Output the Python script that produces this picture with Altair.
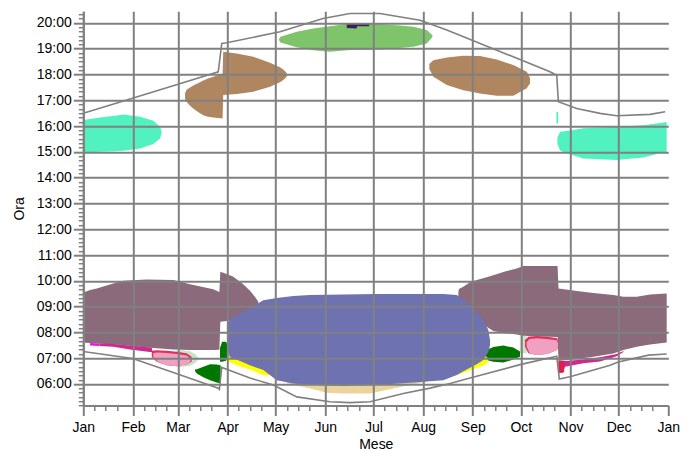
import altair as alt
import pandas as pd

FONT = "Liberation Sans"
GRID = "#808080"

MONTH_DAYS = [0, 31, 59, 90, 120, 151, 181, 212, 243, 273, 304, 334, 365]
MONTH_LABELS = ["Jan", "Feb", "Mar", "Apr", "May", "Jun", "Jul", "Aug", "Sep", "Oct", "Nov", "Dec", "Jan"]
HOUR_TICKS = list(range(6, 21))
X_DOMAIN = [0, 365]
Y_DOMAIN = [5 + 10 / 60, 20.45]

# sunset / sunrise curves (day of year, hour)
sunset_day = [1, 30.2, 59.1, 84.2, 86.4, 89.5, 122.7, 149.6, 166.4, 185.1, 210.1, 226.8, 258.0, 291.2, 295.4, 296.4, 307.9, 322.4, 332.8, 353.6, 363.0]
sunset_h = [16.51, 17.07, 17.62, 18.10, 19.20, 19.225, 19.65, 20.17, 20.36, 20.36, 20.10, 19.72, 18.94, 18.10, 17.97, 16.94, 16.68, 16.49, 16.40, 16.45, 16.55]
sunrise_day = [1, 30.8, 59.3, 84.2, 84.9, 86.4, 91.5, 104.0, 118.6, 133.2, 153.9, 166.4, 178.9, 199.7, 216.3, 228.8, 241.3, 272.5, 295.4, 297.0, 303.7, 328.7, 333.8, 352.6, 364.0]
sunrise_h = [7.25, 6.99, 6.38, 5.84, 5.79, 6.64, 6.52, 6.23, 5.96, 5.50, 5.31, 5.28, 5.31, 5.635, 5.84, 6.02, 6.23, 6.75, 7.08, 6.19, 6.28, 6.73, 6.85, 7.12, 7.16]

# shaded regions: day, lower hour, upper hour
aqua_l_day = [0, 10.4, 19.8, 25.0, 35.4, 43.7, 47.9, 48.9]
aqua_l_lo = [14.94, 15.00, 15.02, 15.04, 15.13, 15.30, 15.52, 15.74]
aqua_l_hi = [16.23, 16.33, 16.40, 16.45, 16.36, 16.20, 15.97, 15.78]

aqua_r_day = [295.8, 297.5, 301.6, 312.0, 332.8, 349.4, 359.8, 364.0]
aqua_r_lo = [15.30, 15.05, 14.94, 14.74, 14.68, 14.78, 14.94, 14.96]
aqua_r_hi = [15.55, 15.78, 15.81, 15.91, 15.97, 16.03, 16.12, 16.16]

aqua_s_day = [295.2, 296.3]
aqua_s_lo = [16.10, 16.10]
aqua_s_hi = [16.55, 16.55]

brown_l_day = [63.5, 64.5, 66.6, 68.6, 71.6, 74.9, 77.8, 81.1, 86.9, 87.3, 95.7, 106.1, 116.5, 122.7, 124.8, 126.9]
brown_l_lo = [17.04, 16.93, 16.79, 16.68, 16.54, 16.42, 16.36, 16.33, 16.29, 17.20, 17.24, 17.33, 17.52, 17.70, 17.78, 17.91]
brown_l_hi = [17.28, 17.41, 17.49, 17.57, 17.66, 17.76, 17.84, 17.91, 18.03, 18.88, 18.81, 18.68, 18.45, 18.28, 18.19, 18.05]

brown_r_day = [215.9, 218.4, 226.8, 237.1, 247.5, 258.0, 268.3, 276.7, 278.7]
brown_r_lo = [18.21, 17.91, 17.59, 17.39, 17.26, 17.17, 17.17, 17.46, 17.66]
brown_r_hi = [18.40, 18.55, 18.66, 18.72, 18.71, 18.58, 18.36, 18.10, 17.86]

green_day = [122.1, 123.0, 133.2, 143.5, 153.9, 164.4, 174.7, 185.1, 195.6, 205.9, 214.3, 217.8]
green_lo = [19.33, 19.24, 19.05, 18.94, 18.88, 18.94, 18.96, 18.97, 19.01, 19.07, 19.20, 19.45]
green_hi = [19.36, 19.46, 19.65, 19.78, 19.87, 19.95, 19.96, 19.95, 19.91, 19.85, 19.72, 19.52]

navy_day = [164.4, 170.6, 170.8, 178.3]
navy_lo = [19.80, 19.78, 19.87, 19.87]
navy_hi = [19.98, 19.98, 19.98, 19.98]

mauve_l_day = [1.0, 4.2, 8.4, 18.7, 25.0, 39.6, 56.2, 66.6, 81.1, 84.9, 85.5, 89.5, 93.6, 99.8, 104.0, 107.1, 109.2]
mauve_l_lo = [7.60, 7.585, 7.57, 7.535, 7.51, 7.41, 7.34, 7.314, 7.314, 7.33, 8.41, 8.44, 8.50, 8.67, 8.84, 8.99, 9.12]
mauve_l_hi = [9.57, 9.64, 9.70, 9.90, 10.00, 10.05, 10.03, 9.87, 9.67, 9.57, 10.35, 10.26, 10.155, 9.87, 9.61, 9.38, 9.19]

mauve_r_day = [234.0, 234.4, 237.1, 241.3, 245.5, 251.7, 255.8, 263.1, 270.4, 274.6, 295.9, 296.5, 307.9, 318.2, 330.7, 337.0, 345.3, 353.6, 364.0]
mauve_r_lo = [9.32, 9.25, 9.06, 8.80, 8.54, 8.22, 8.05, 7.97, 7.92, 7.86, 7.82, 6.89, 6.965, 7.055, 7.186, 7.314, 7.44, 7.535, 7.61]
mauve_r_hi = [9.57, 9.68, 9.77, 9.94, 10.03, 10.14, 10.22, 10.356, 10.48, 10.57, 10.57, 9.70, 9.60, 9.53, 9.446, 9.38, 9.38, 9.47, 9.51]

mag_la_day = [4.2, 10.0]
mag_la_lo = [7.49, 7.47]
mag_la_hi = [7.585, 7.57]
mag_lb_day = [10.0, 18.7, 29.1, 41.6, 42.9]
mag_lb_lo = [7.47, 7.44, 7.34, 7.24, 7.24]
mag_lb_hi = [7.57, 7.55, 7.49, 7.41, 7.39]

mag_r_day = [296.5, 299.3, 300.6, 312.0, 322.4, 332.8, 337.0]
mag_r_lo = [6.42, 6.46, 6.67, 6.80, 6.87, 7.08, 7.24]
mag_r_hi = [6.89, 6.89, 6.89, 6.945, 7.04, 7.16, 7.275]
spike_day = [296.5, 300.0]
spike_lo = [6.42, 6.46]
spike_hi = [6.89, 6.89]

pale_l_day = [58.0, 62.0, 66.6, 70.0, 71.8]
pale_l_lo = [6.68, 6.67, 6.70, 6.82, 6.95]
pale_l_hi = [7.30, 7.31, 7.27, 7.15, 7.00]
pale_r_day = [272.3, 276.7]
pale_r_lo = [7.19, 7.19]
pale_r_hi = [7.87, 7.87]

red_l_day = [42.7, 45.8, 52.0, 58.3, 64.5, 67.6]
red_l_lo = [7.06, 6.86, 6.73, 6.69, 6.77, 6.86]
red_l_hi = [7.29, 7.31, 7.29, 7.25, 7.19, 7.06]
pink_l_day = [43.6, 46.5, 52.0, 58.3, 64.5, 66.9]
pink_l_lo = [7.06, 6.86, 6.73, 6.69, 6.77, 6.86]
pink_l_hi = [7.20, 7.22, 7.20, 7.16, 7.10, 6.98]

red_r_day = [275.6, 277.7, 282.9, 289.2, 295.4, 296.4]
red_r_lo = [7.44, 7.19, 7.12, 7.16, 7.31, 7.44]
red_r_hi = [7.70, 7.83, 7.86, 7.83, 7.78, 7.66]
pink_r_day = [276.6, 278.4, 282.9, 289.2, 295.4, 296.2]
pink_r_lo = [7.44, 7.19, 7.12, 7.16, 7.31, 7.44]
pink_r_hi = [7.62, 7.74, 7.77, 7.74, 7.70, 7.58]

dg_l_day = [69.7, 70.8, 74.9, 79.1, 83.2, 85.7]
dg_l_lo = [6.50, 6.41, 6.26, 6.15, 6.06, 6.02]
dg_l_hi = [6.56, 6.57, 6.67, 6.77, 6.76, 6.73]
dg_s_day = [85.3, 86.6, 89.0, 90.5]
dg_s_lo = [6.86, 6.86, 6.90, 7.05]
dg_s_hi = [7.40, 7.64, 7.64, 7.48]
dg_r_day = [249.2, 251.7, 255.8, 262.1, 268.3, 272.5]
dg_r_lo = [7.08, 6.926, 6.86, 6.83, 6.945, 7.06]
dg_r_hi = [7.16, 7.314, 7.43, 7.49, 7.41, 7.26]

yel_l_day = [90.5, 97.8, 104.0, 112.3, 115.4, 116.5]
yel_l_lo = [6.86, 6.69, 6.56, 6.345, 6.325, 6.345]
yel_l_hi = [7.314, 7.12, 7.00, 6.85, 6.54, 6.42]
yel_r_day = [226.9, 233.0, 239.2, 245.5, 250.7, 252.5]
yel_r_lo = [6.28, 6.34, 6.48, 6.62, 6.75, 6.85]
yel_r_hi = [6.60, 6.60, 6.70, 6.90, 7.10, 7.00]

tan_day = [126.9, 128.2, 141.5, 151.9, 162.2, 178.9, 193.4, 203.9, 214.3, 215.7]
tan_lo = [6.03, 6.02, 5.83, 5.66, 5.635, 5.635, 5.83, 5.958, 6.09, 6.15]
tan_hi = [6.10, 6.20, 6.20, 6.20, 6.20, 6.20, 6.20, 6.20, 6.20, 6.20]

blue_day = [90.0, 91.5, 97.8, 104.0, 112.3, 120.7, 131.0, 141.5, 162.2, 183.1, 203.9, 224.6, 233.0, 239.2, 245.5, 249.6, 252.7, 253.8]
blue_lo = [7.314, 7.04, 6.89, 6.73, 6.54, 6.15, 6.02, 5.958, 5.92, 5.958, 6.05, 6.15, 6.35, 6.56, 6.77, 6.93, 7.24, 7.51]
blue_hi = [8.36, 8.515, 8.75, 8.94, 9.25, 9.33, 9.41, 9.446, 9.465, 9.485, 9.485, 9.485, 9.446, 9.175, 8.79, 8.48, 8.09, 7.70]

XS = alt.Scale(domain=X_DOMAIN, nice=False, zero=False)
YS = alt.Scale(domain=Y_DOMAIN, nice=False, zero=False)


def band(days, lo, hi, color):
    df = pd.DataFrame({"day": days, "lo": lo, "hi": hi})
    return alt.Chart(df).mark_area(color=color, opacity=1, interpolate="linear").encode(
        x=alt.X("day:Q", scale=XS, axis=None),
        y=alt.Y("lo:Q", scale=YS, axis=None),
        y2="hi:Q",
    )


month_expr = "[" + ",".join("'%s'" % m for m in MONTH_LABELS) + "][indexof([" + ",".join(str(d) for d in MONTH_DAYS) + "], datum.value)]"
hour_expr = "(datum.value < 10 ? '0' : '') + datum.value + ':00'"

common = dict(
    labelFont=FONT, labelFontSize=14, labelColor="#000000",
    titleFont=FONT, titleFontSize=14, titleFontWeight="normal", titleColor="#000000",
    labelFlush=False, labelOverlap=False,
    domainColor=GRID, domainWidth=2, tickColor=GRID, tickWidth=2, tickSize=10,
    gridColor=GRID, gridWidth=2, zindex=1,
)

x_axis = alt.Axis(values=MONTH_DAYS, labelExpr=month_expr, title="Mese", grid=True,
                  gridOpacity={"condition": {"test": "datum.value >= 365", "value": 0}, "value": 1},
                  labelPadding=5, titlePadding=3, orient="bottom", **common)
y_axis = alt.Axis(values=HOUR_TICKS, labelExpr=hour_expr, title="Ora", grid=True,
                  labelPadding=2, titlePadding=10, orient="left", **common)

minor_x = [m + k for m in MONTH_DAYS[:-1] for k in (7, 14, 21)]
minor_y = [h + k / 6 for h in range(5, 21) for k in range(1, 6) if Y_DOMAIN[0] - 1e-6 <= h + k / 6 <= Y_DOMAIN[1]]

sun_df = pd.DataFrame({"day": sunset_day, "h": sunset_h})
rise_df = pd.DataFrame({"day": sunrise_day, "h": sunrise_h})

sunset = alt.Chart(sun_df).mark_line(color=GRID, strokeWidth=1.6).encode(
    x=alt.X("day:Q", scale=XS, axis=x_axis),
    y=alt.Y("h:Q", scale=YS, axis=y_axis),
)
sunrise = alt.Chart(rise_df).mark_line(color=GRID, strokeWidth=1.6).encode(
    x=alt.X("day:Q", scale=XS, axis=None),
    y=alt.Y("h:Q", scale=YS, axis=None),
)

minor = alt.Chart(pd.DataFrame({"day": [0], "h": [12]})).mark_point(opacity=0).encode(
    x=alt.X("day:Q", scale=XS, axis=alt.Axis(values=minor_x, labels=False, grid=False, domain=False,
                                              tickColor=GRID, tickWidth=1.5, tickSize=5, orient="bottom",
                                              title=None, zindex=1)),
    y=alt.Y("h:Q", scale=YS, axis=alt.Axis(values=minor_y, labels=False, grid=False, domain=False,
                                            tickColor=GRID, tickWidth=1.5, tickSize=5, orient="left",
                                            title=None, zindex=1)),
)

layers = [
    band(aqua_l_day, aqua_l_lo, aqua_l_hi, "#52f2c0"),
    band(aqua_r_day, aqua_r_lo, aqua_r_hi, "#52f2c0"),
    band(aqua_s_day, aqua_s_lo, aqua_s_hi, "#52f2c0"),
    band(brown_l_day, brown_l_lo, brown_l_hi, "#b08660"),
    band(brown_r_day, brown_r_lo, brown_r_hi, "#b08660"),
    band(green_day, green_lo, green_hi, "#7dc46a"),
    band(navy_day, navy_lo, navy_hi, "#3b1f5c"),
    band(mauve_l_day, mauve_l_lo, mauve_l_hi, "#8a6a7b"),
    band(mauve_r_day, mauve_r_lo, mauve_r_hi, "#8a6a7b"),
    band(mag_la_day, mag_la_lo, mag_la_hi, "#f010e8"),
    band(mag_lb_day, mag_lb_lo, mag_lb_hi, "#cc2a8c"),
    band(mag_r_day, mag_r_lo, mag_r_hi, "#cc2a8c"),
    band(spike_day, spike_lo, spike_hi, "#e0204c"),
    band(pale_l_day, pale_l_lo, pale_l_hi, "#c8e4c8"),
    band(pale_r_day, pale_r_lo, pale_r_hi, "#c8e4c8"),
    band(red_l_day, red_l_lo, red_l_hi, "#e0305a"),
    band(pink_l_day, pink_l_lo, pink_l_hi, "#f0a0c0"),
    band(red_r_day, red_r_lo, red_r_hi, "#e0305a"),
    band(pink_r_day, pink_r_lo, pink_r_hi, "#f0a0c0"),
    band(dg_l_day, dg_l_lo, dg_l_hi, "#007800"),
    band(dg_s_day, dg_s_lo, dg_s_hi, "#007800"),
    band(dg_r_day, dg_r_lo, dg_r_hi, "#007800"),
    band(yel_l_day, yel_l_lo, yel_l_hi, "#ffff00"),
    band(yel_r_day, yel_r_lo, yel_r_hi, "#ffff00"),
    band(tan_day, tan_lo, tan_hi, "#e8d49c"),
    band(blue_day, blue_lo, blue_hi, "#6e72b0"),
    sunrise,
    sunset,
    minor,
]

chart = alt.layer(*layers).resolve_axis(x="independent", y="independent").properties(
    width=585,
    height=394.3,
    autosize=alt.AutoSizeParams(type="none"),
    padding={"left": 75.3, "top": 3.2, "right": 20, "bottom": 52},
).configure_view(stroke=None)

chart.save("out.html", embed_options={"renderer": "svg", "actions": False})
